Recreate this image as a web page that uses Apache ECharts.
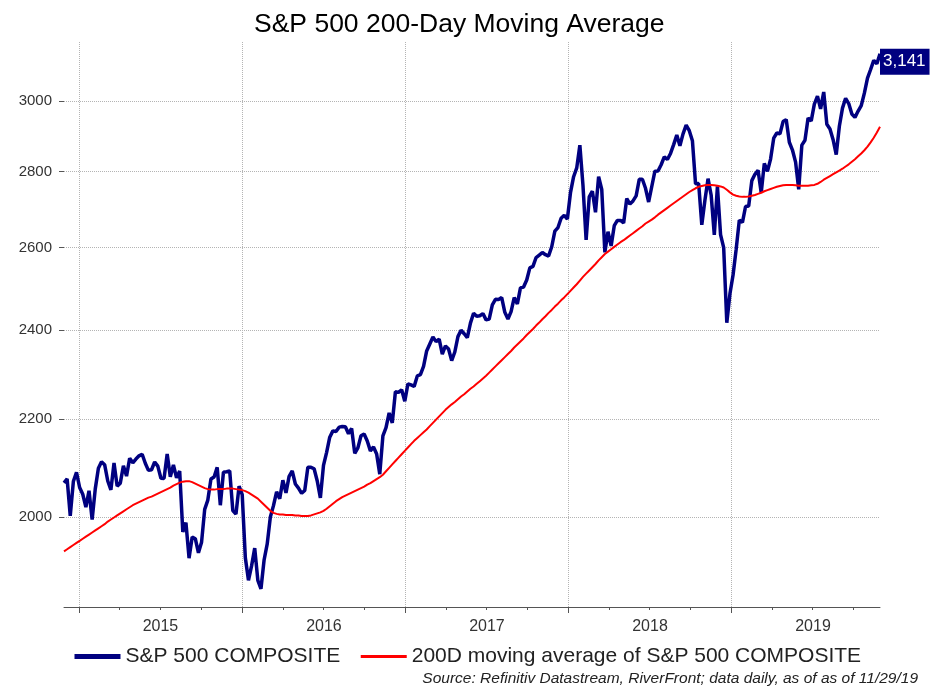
<!DOCTYPE html>
<html><head><meta charset="utf-8">
<script src="https://cdn.jsdelivr.net/npm/echarts@6/dist/echarts.min.js"></script>
<style>html,body{margin:0;padding:0;background:#fff}#c{width:932px;height:687px}</style>
</head><body><div id="c"></div>
<script>
// Weekly closes, S&P 500 COMPOSITE (Fridays from 2014-11-28 to 2019-11-29)
const sp2014 = [2067.6, 2075.4, 2002.3, 2070.7, 2088.8];
const sp2015 = [2058.2, 2044.8, 2019.4, 2051.8, 1995.0, 2055.5, 2097.0, 2110.3, 2104.5, 2071.3, 2053.4, 2108.1, 2061.0, 2067.0, 2102.1, 2081.2, 2117.7, 2108.3, 2116.1, 2122.7, 2126.1, 2107.4, 2092.8, 2094.1, 2110.0, 2101.5, 2076.8, 2076.6, 2126.6, 2079.7, 2103.8, 2077.6, 2091.5, 1970.9, 1988.9, 1921.2, 1961.1, 1958.0, 1931.3, 1951.4, 2014.9, 2033.1, 2075.2, 2079.4, 2099.2, 2023.0, 2089.2, 2090.1, 2091.7, 2012.4, 2005.6, 2061.0];
const sp2016 = [2043.9, 1922.0, 1880.3, 1906.9, 1940.2, 1880.1, 1864.8, 1917.8, 1948.1, 2000.0, 2022.2, 2049.6, 2035.9, 2072.8, 2047.6, 2080.7, 2091.6, 2065.3, 2057.1, 2046.6, 2052.3, 2099.1, 2099.1, 2096.1, 2071.2, 2037.4, 2103.0, 2129.9, 2161.7, 2175.0, 2173.6, 2182.9, 2184.1, 2183.9, 2169.0, 2180.0, 2127.8, 2139.2, 2164.7, 2168.3, 2153.7, 2133.0, 2141.2, 2126.4, 2085.2, 2164.5, 2181.9, 2213.4, 2192.0, 2259.5, 2258.1, 2263.8, 2238.8];
const sp2017 = [2277.0, 2274.6, 2271.3, 2294.7, 2297.4, 2316.1, 2351.2, 2367.3, 2383.1, 2372.6, 2378.3, 2344.0, 2362.7, 2355.5, 2329.0, 2348.7, 2384.2, 2399.3, 2390.9, 2381.7, 2415.8, 2439.1, 2431.8, 2433.2, 2438.3, 2423.4, 2425.2, 2459.3, 2472.5, 2472.1, 2476.8, 2441.3, 2425.6, 2443.1, 2476.6, 2461.4, 2500.2, 2502.2, 2519.4, 2549.3, 2553.2, 2575.2, 2581.1, 2587.8, 2582.3, 2578.9, 2602.4, 2642.2, 2651.5, 2675.8, 2683.3, 2673.6];
const sp2018 = [2743.2, 2786.2, 2810.3, 2872.9, 2762.1, 2619.6, 2732.2, 2747.3, 2691.3, 2786.6, 2752.0, 2588.3, 2640.9, 2604.5, 2656.3, 2670.1, 2669.9, 2663.4, 2727.7, 2713.0, 2721.3, 2734.6, 2779.0, 2779.4, 2754.9, 2718.4, 2759.8, 2801.3, 2801.8, 2818.8, 2840.4, 2833.3, 2850.1, 2874.7, 2901.5, 2871.7, 2905.0, 2929.7, 2914.0, 2885.6, 2767.1, 2767.8, 2658.7, 2723.1, 2781.0, 2736.3, 2632.6, 2760.2, 2633.1, 2600.0, 2416.6, 2485.7];
const sp2019 = [2531.9, 2596.3, 2670.7, 2664.8, 2706.5, 2707.9, 2775.6, 2792.7, 2803.7, 2743.1, 2822.5, 2800.7, 2834.4, 2892.7, 2907.4, 2905.0, 2939.9, 2945.6, 2881.4, 2859.5, 2826.1, 2752.1, 2873.3, 2887.0, 2950.5, 2941.8, 2990.4, 3013.8, 2976.6, 3025.9, 2932.1, 2918.7, 2888.7, 2847.1, 2926.5, 2978.7, 3007.4, 2992.1, 2961.8, 2952.0, 2970.3, 2986.2, 3022.6, 3066.9, 3093.1, 3120.5, 3110.3, 3141.0];

// 200-day moving average, same weeks
const ma2014 = [1934, 1938, 1942, 1946, 1950];
const ma2015 = [1954, 1958, 1962, 1966, 1970, 1974, 1978, 1982, 1986, 1991, 1995, 1999, 2003, 2007, 2011, 2015, 2019, 2023, 2026, 2029, 2032, 2035, 2038, 2040, 2043, 2046, 2049, 2052, 2055, 2058, 2062, 2065, 2068, 2070, 2071, 2071, 2069, 2066, 2063, 2060, 2057, 2055, 2054, 2054, 2055, 2055, 2055, 2056, 2056, 2056, 2055, 2054];
const ma2016 = [2053, 2051, 2048, 2044, 2040, 2036, 2030, 2024, 2018, 2012, 2008, 2006, 2005, 2005, 2004, 2004, 2004, 2003, 2003, 2002, 2002, 2002, 2003, 2005, 2007, 2009, 2012, 2016, 2021, 2026, 2031, 2035, 2039, 2042, 2045, 2048, 2051, 2054, 2057, 2060, 2064, 2067, 2071, 2075, 2079, 2084, 2091, 2098, 2105, 2112, 2119, 2126, 2133];
const ma2017 = [2140, 2147, 2154, 2160, 2166, 2172, 2178, 2185, 2192, 2199, 2206, 2213, 2220, 2226, 2232, 2237, 2243, 2249, 2254, 2260, 2266, 2271, 2277, 2283, 2289, 2295, 2302, 2309, 2316, 2323, 2330, 2337, 2344, 2351, 2359, 2366, 2373, 2380, 2388, 2395, 2402, 2410, 2417, 2425, 2432, 2440, 2447, 2455, 2462, 2470, 2477, 2485];
const ma2018 = [2493, 2501, 2509, 2518, 2527, 2535, 2543, 2551, 2559, 2568, 2576, 2584, 2590, 2596, 2602, 2608, 2614, 2619, 2625, 2631, 2637, 2643, 2649, 2655, 2662, 2667, 2672, 2678, 2685, 2691, 2697, 2703, 2709, 2715, 2721, 2727, 2733, 2739, 2745, 2750, 2755, 2759, 2761, 2763, 2764, 2764, 2763, 2762, 2760, 2757, 2751, 2744];
const ma2019 = [2738, 2735, 2733, 2732, 2732, 2733, 2735, 2737, 2740, 2743, 2747, 2750, 2753, 2756, 2759, 2761, 2763, 2764, 2764, 2764, 2763, 2762, 2762, 2762, 2762, 2763, 2764, 2767, 2772, 2778, 2783, 2788, 2793, 2798, 2803, 2808, 2814, 2820, 2827, 2834, 2842, 2850, 2859, 2869, 2881, 2894, 2909, 2925];

const yTickValues = [2000, 2200, 2400, 2600, 2800, 3000];
const yearLabels = [2015, 2016, 2017, 2018, 2019];
const seriesNames = ['S&P 500 COMPOSITE', '200D moving average of S&P 500 COMPOSITE'];
const titleText = 'S&P 500 200-Day Moving Average';
const sourceText = 'Source: Refinitiv Datastream, RiverFront; data daily, as of as of 11/29/19';

const firstWeek = Date.UTC(2014, 10, 28);
const lastWeek = Date.UTC(2019, 10, 29);
const WEEK = 7 * 24 * 3600 * 1000;

const sp500 = [].concat(sp2014, sp2015, sp2016, sp2017, sp2018, sp2019);
const ma200 = [].concat(ma2014, ma2015, ma2016, ma2017, ma2018, ma2019);
const weeks = sp500.map((_, i) => firstWeek + i * WEEK);

const yearStarts = yearLabels.map(y => Date.UTC(y, 0, 1));
const midYears = yearLabels.map(y => Date.UTC(y, 6, 2));
const quarterStarts = [];
yearLabels.forEach(y => { [3, 6, 9].forEach(m => quarterStarts.push(Date.UTC(y, m, 1))); });

const FONT = '"Liberation Sans", Arial, sans-serif';
const chart = echarts.init(document.getElementById('c'), null, { renderer: 'canvas' });
chart.setOption({
  animation: false,
  backgroundColor: '#ffffff',
  title: [
    { text: titleText, left: 249, top: 6,
      textStyle: { fontFamily: FONT, fontSize: 26.5, fontWeight: 'normal', color: '#000' } },
    { text: sourceText, right: 9, top: 666,
      textStyle: { fontFamily: FONT, fontSize: 15.5, fontStyle: 'italic', fontWeight: 'normal', color: '#222' } }
  ],
  legend: {
    left: 67, top: 641, itemWidth: 46, itemHeight: 14, itemGap: 19,
    data: [
      { name: seriesNames[0], lineStyle: { width: 5 } },
      { name: seriesNames[1], lineStyle: { width: 3 } }
    ],
    itemStyle: { opacity: 0 },
    textStyle: { fontFamily: FONT, fontSize: 21, color: '#222' }
  },
  grid: { left: 64, right: 52, top: 42, bottom: 80, containLabel: false },
  xAxis: [
    {
      type: 'value', min: firstWeek, max: lastWeek,
      axisLine: { show: true, lineStyle: { color: '#555', width: 1 } },
      axisTick: { show: true, length: 6, customValues: yearStarts, lineStyle: { color: '#555' } },
      axisLabel: { customValues: midYears, margin: 12, fontFamily: FONT, fontSize: 16, color: '#333',
        formatter: v => String(new Date(v).getUTCFullYear()) },
      splitLine: { show: true, lineStyle: { color: '#b4b4b4', type: 'dotted', width: 1 } }
    },
    {
      type: 'value', min: firstWeek, max: lastWeek, position: 'bottom', offset: 0,
      axisLine: { show: false },
      axisTick: { show: true, length: 3, customValues: quarterStarts, lineStyle: { color: '#555' } },
      axisLabel: { show: false },
      splitLine: { show: false }
    }
  ],
  yAxis: {
    type: 'log', logBase: 10, min: 1832, max: 3177,
    axisLine: { show: false },
    axisTick: { show: true, length: 5, customValues: yTickValues, lineStyle: { color: '#555' } },
    axisLabel: { customValues: yTickValues, margin: 12, fontFamily: FONT, fontSize: 15, color: '#333',
      formatter: v => String(Math.round(v)) },
    splitLine: { show: true, lineStyle: { color: '#b4b4b4', type: 'dotted', width: 1 } }
  },
  series: [
    {
      name: seriesNames[0], type: 'line', xAxisIndex: 0,
      data: weeks.map((t, i) => [t, sp500[i]]),
      symbol: 'none', showSymbol: false, z: 3,
      lineStyle: { color: '#000080', width: 3.5 }, itemStyle: { color: '#000080' },
      endLabel: {
        show: true, distance: 0, offset: [0, 8],
        formatter: p => Math.round(p.value[1]).toLocaleString('en-US'),
        backgroundColor: '#000080', color: '#fff', fontFamily: FONT, fontSize: 17,
        padding: [5, 4, 4, 3]
      }
    },
    {
      name: seriesNames[1], type: 'line', xAxisIndex: 0,
      data: weeks.map((t, i) => [t, ma200[i]]),
      symbol: 'none', showSymbol: false, z: 4,
      lineStyle: { color: '#ff0000', width: 2 }, itemStyle: { color: '#ff0000' }
    }
  ]
});
</script>
</body></html>
